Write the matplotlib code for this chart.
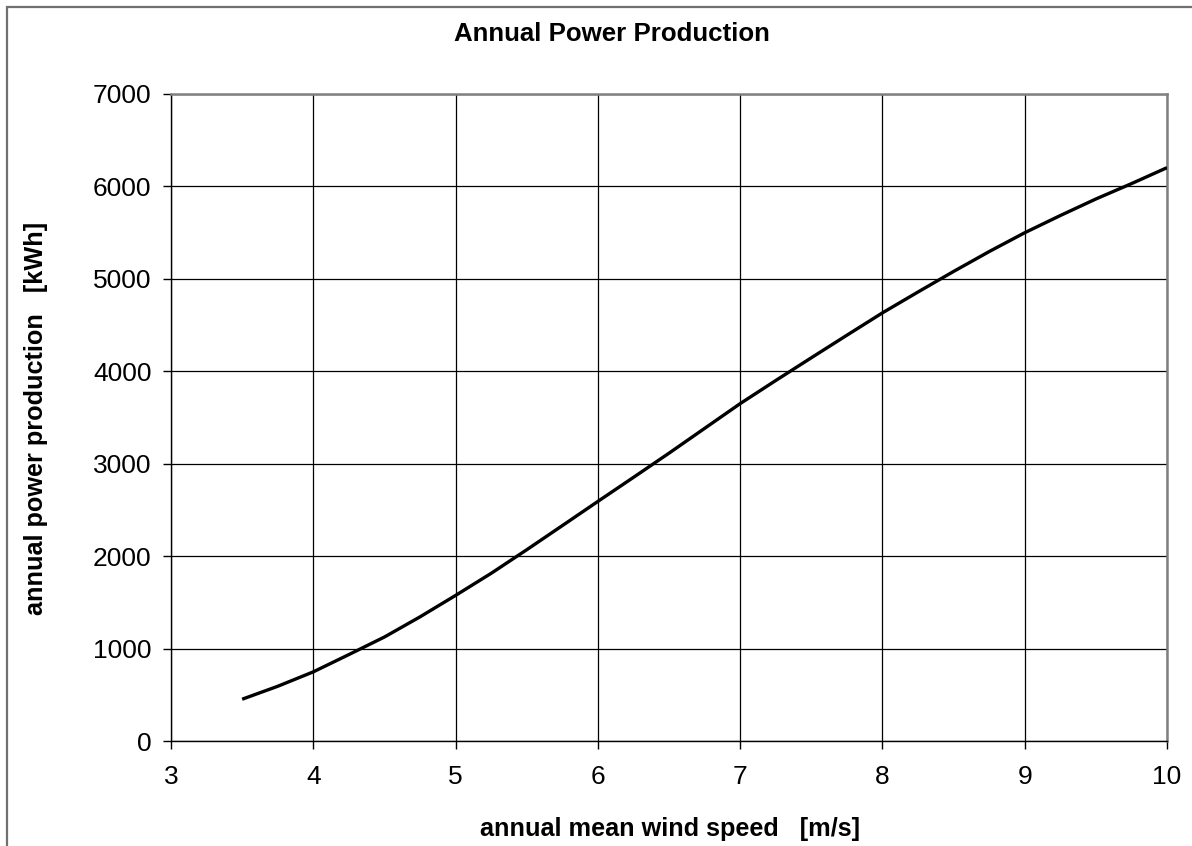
import matplotlib
matplotlib.use("Agg")
import matplotlib.pyplot as plt
from matplotlib.patches import Rectangle

plt.rcParams['font.family'] = ['Liberation Sans', 'DejaVu Sans']

# Veriler
wind_speed = [3.5, 3.75, 4.0, 4.25, 4.5, 4.75, 5.0, 5.25, 5.5, 5.75, 6.0, 6.25, 6.5, 6.75,
              7.0, 7.25, 7.5, 7.75, 8.0, 8.25, 8.5, 8.75, 9.0, 9.25, 9.5, 9.75, 10.0]
power = [452, 592, 748, 935, 1125, 1343, 1575, 1814, 2069, 2330, 2592, 2852, 3114, 3382,
         3650, 3900, 4146, 4390, 4632, 4858, 5080, 5295, 5499, 5685, 5864, 6030, 6203]
x_ticks = [3, 4, 5, 6, 7, 8, 9, 10]
y_ticks = [0, 1000, 2000, 3000, 4000, 5000, 6000, 7000]

fig = plt.figure(figsize=(11.92, 8.46), dpi=100)
ax = fig.add_axes([171 / 1192, 1 - 741 / 846, (1167 - 171) / 1192, (741 - 94) / 846])

ax.plot(wind_speed, power, color='black', linewidth=2.4, solid_capstyle='butt', zorder=3)

ax.set_xlim(3, 10)
ax.set_ylim(0, 7000)
ax.set_xticks(x_ticks)
ax.set_yticks(y_ticks)
ax.grid(True, color='black', linewidth=0.9)
ax.set_axisbelow(True)

for side in ['left', 'bottom']:
    ax.spines[side].set_color('black')
    ax.spines[side].set_linewidth(1.0)
for side in ['top', 'right']:
    ax.spines[side].set_color('#808080')
    ax.spines[side].set_linewidth(1.8)

ax.tick_params(axis='both', direction='out', length=6, width=1.0, labelsize=19, color='black')
ax.tick_params(axis='y', pad=8)
ax.tick_params(axis='x', pad=11)

# Başlık ve eksen etiketleri
fig.text(612 / 1192, 1 - 34 / 846, 'Annual Power Production', ha='center', va='center',
         fontsize=18.6, fontweight='bold')
fig.text(670 / 1192, 1 - 829 / 846, 'annual mean wind speed   [m/s]', ha='center', va='center',
         fontsize=18.2, fontweight='bold')
fig.text(36 / 1192, 1 - 418 / 846, 'annual power production   [kWh]', ha='center', va='center',
         rotation=90, fontsize=18.2, fontweight='bold')

# Dış çerçeve
fig.patches.append(Rectangle((7 / 1192, -0.1), 1.2, 1.1 - 7 / 846, transform=fig.transFigure,
                             fill=False, edgecolor='#707070', linewidth=1.6))

fig.savefig('out.png', dpi=100)
